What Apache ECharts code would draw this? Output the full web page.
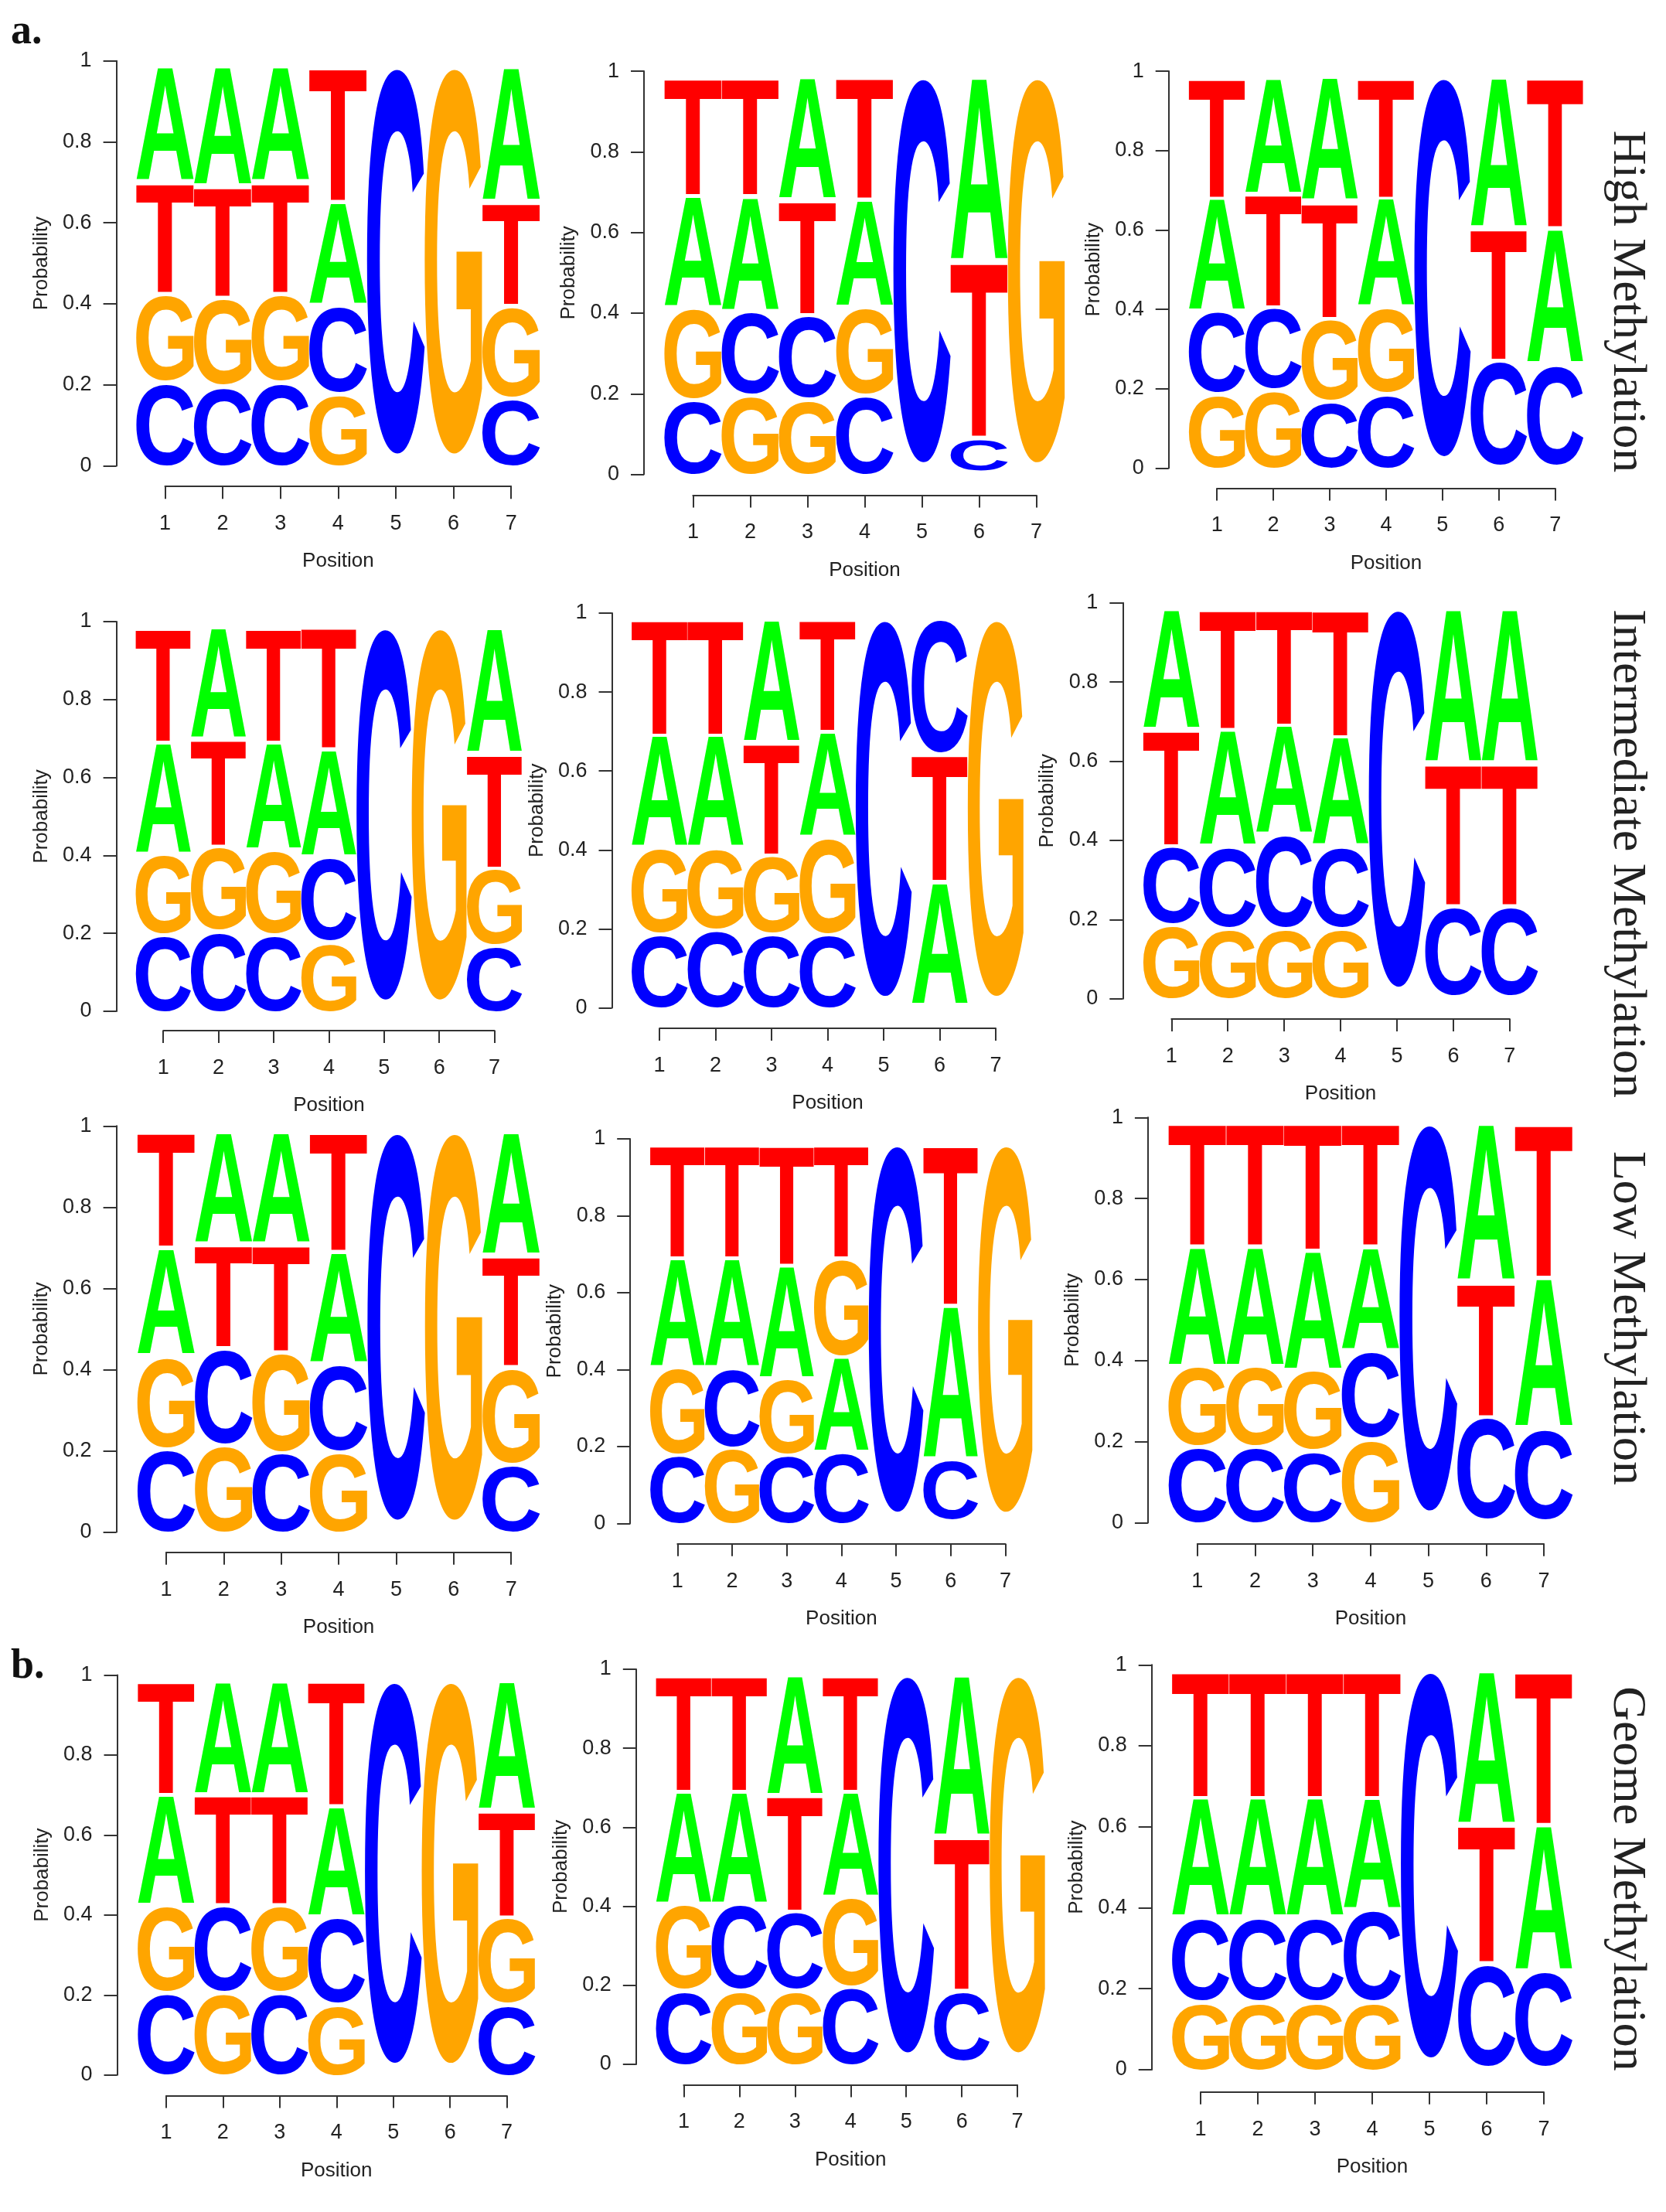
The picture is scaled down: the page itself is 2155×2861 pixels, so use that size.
<!DOCTYPE html>
<html>
<head>
<meta charset="utf-8">
<title>Sequence logos by methylation level</title>
<script src="https://cdn.jsdelivr.net/npm/echarts@6.0.0/dist/echarts.min.js"></script>
<style>
  html, body { margin: 0; padding: 0; background: #fff; }
  #main { width: 2155px; height: 2861px; }
</style>
</head>
<body>
<div id="main"></div>
<script>
  // bases in row order of every matrix below
  var BASES = ['A', 'C', 'G', 'T'];
  var BASE_COLORS = { A: '#00ff00', C: '#0000ff', G: '#ffa500', T: '#ff0000' };
  var ROW_LABELS = ['High Methylation', 'Intermediate Methylation', 'Low Methylation', 'Geome Methylation'];
  var SECTION_LABELS = ['a.', 'b.'];

  // probability per position 1..7, rows: A, C, G, T
  var high1 = [
    [0.29, 0.30, 0.29, 0.26, 0, 0, 0.34],
    [0.21, 0.20, 0.21, 0.22, 1, 0, 0.17],
    [0.22, 0.22, 0.22, 0.18, 0, 1, 0.23],
    [0.28, 0.28, 0.28, 0.34, 0, 0, 0.26]
  ];
  var high2 = [
    [0.28, 0.29, 0.31, 0.27, 0, 0.47, 0],
    [0.19, 0.21, 0.21, 0.20, 1, 0.08, 0],
    [0.23, 0.20, 0.19, 0.22, 0, 0, 1],
    [0.30, 0.30, 0.29, 0.31, 0, 0.45, 0]
  ];
  var high3 = [
    [0.29, 0.30, 0.32, 0.28, 0, 0.39, 0.35],
    [0.21, 0.21, 0.17, 0.19, 1, 0.27, 0.26],
    [0.19, 0.20, 0.21, 0.22, 0, 0, 0],
    [0.31, 0.29, 0.30, 0.31, 0, 0.34, 0.39]
  ];
  var mid1 = [
    [0.29, 0.29, 0.28, 0.28, 0, 0, 0.33],
    [0.20, 0.21, 0.20, 0.22, 1, 0, 0.17],
    [0.21, 0.22, 0.22, 0.18, 0, 1, 0.20],
    [0.30, 0.28, 0.30, 0.32, 0, 0, 0.30]
  ];
  var mid2 = [
    [0.29, 0.29, 0.32, 0.27, 0, 0.32, 0],
    [0.19, 0.20, 0.19, 0.19, 1, 0.35, 0],
    [0.22, 0.21, 0.20, 0.25, 0, 0, 1],
    [0.30, 0.30, 0.29, 0.29, 0, 0.33, 0]
  ];
  var mid3 = [
    [0.31, 0.30, 0.28, 0.28, 0, 0.40, 0.40],
    [0.20, 0.21, 0.24, 0.21, 1, 0.23, 0.23],
    [0.19, 0.18, 0.18, 0.18, 0, 0, 0],
    [0.30, 0.31, 0.30, 0.33, 0, 0.37, 0.37]
  ];
  var low1 = [
    [0.27, 0.28, 0.28, 0.28, 0, 0, 0.31],
    [0.21, 0.24, 0.20, 0.22, 1, 0, 0.17],
    [0.23, 0.22, 0.25, 0.20, 0, 1, 0.24],
    [0.29, 0.26, 0.27, 0.30, 0, 0, 0.28]
  ];
  var low2 = [
    [0.29, 0.29, 0.30, 0.25, 0, 0.41, 0],
    [0.18, 0.21, 0.18, 0.19, 1, 0.16, 0],
    [0.23, 0.20, 0.20, 0.26, 0, 0, 1],
    [0.30, 0.30, 0.32, 0.30, 0, 0.43, 0]
  ];
  var low3 = [
    [0.30, 0.30, 0.30, 0.26, 0, 0.40, 0.38],
    [0.19, 0.19, 0.18, 0.22, 1, 0.26, 0.23],
    [0.20, 0.20, 0.20, 0.21, 0, 0, 0],
    [0.31, 0.31, 0.32, 0.31, 0, 0.34, 0.39]
  ];
  var genome1 = [
    [0.28, 0.29, 0.29, 0.28, 0, 0, 0.33],
    [0.21, 0.22, 0.21, 0.22, 1, 0, 0.18],
    [0.22, 0.21, 0.22, 0.18, 0, 1, 0.22],
    [0.29, 0.28, 0.28, 0.32, 0, 0, 0.27]
  ];
  var genome2 = [
    [0.29, 0.29, 0.31, 0.27, 0, 0.42, 0],
    [0.19, 0.22, 0.20, 0.20, 1, 0.18, 0],
    [0.22, 0.19, 0.19, 0.23, 0, 0, 1],
    [0.30, 0.30, 0.30, 0.30, 0, 0.40, 0]
  ];
  var genome3 = [
    [0.30, 0.30, 0.30, 0.28, 0, 0.39, 0.37],
    [0.21, 0.21, 0.21, 0.23, 1, 0.26, 0.24],
    [0.17, 0.17, 0.17, 0.17, 0, 0, 0],
    [0.32, 0.32, 0.32, 0.32, 0, 0.35, 0.39]
  ];

  var panels = [high1, high2, high3, mid1, mid2, mid3, low1, low2, low3, genome1, genome2, genome3];

  // page layout of each panel (px): tick 1 x, tick 7 x, p=0 y, p=1 y, y-axis line x, x-axis line y
  var frames = [
    [213.5, 661.2, 602.4, 78.8, 150.6, 629.2],
    [896.4, 1340.6, 613.6, 92.1, 833.0, 640.4],
    [1574.2, 2011.7, 605.5, 92.1, 1511.7, 631.4],
    [211.2, 639.6, 1308.0, 804.0, 150.6, 1333.0],
    [853.1, 1288.0, 1303.6, 793.0, 791.5, 1330.0],
    [1515.3, 1952.8, 1291.7, 779.8, 1452.3, 1318.0],
    [214.9, 661.2, 1981.4, 1456.3, 150.6, 2007.8],
    [876.3, 1300.4, 1970.4, 1473.0, 815.2, 1996.8],
    [1548.8, 1997.0, 1969.5, 1445.3, 1484.9, 1996.8],
    [214.9, 655.6, 2683.8, 2166.4, 151.5, 2710.4],
    [884.4, 1316.1, 2669.9, 2158.9, 822.8, 2696.4],
    [1553.0, 1996.9, 2676.9, 2153.3, 1489.7, 2705.8]
  ];
  var rowLabelY = [390, 1104, 1705, 2430];

  var AXIS_FONT = '"Liberation Sans", Arial, sans-serif';
  var GLYPH_FONT = 'bold 200px "Liberation Sans", Arial, sans-serif';
  var axisLine = { show: true, lineStyle: { color: '#333', width: 2 } };

  // ink box of every glyph, measured with a middle baseline like zrender draws it
  var glyphBox = {};
  (function () {
    var ctx = document.createElement('canvas').getContext('2d');
    ctx.font = GLYPH_FONT;
    ctx.textBaseline = 'middle';
    ctx.textAlign = 'left';
    BASES.forEach(function (b) {
      var m = ctx.measureText(b);
      glyphBox[b] = {
        l: m.actualBoundingBoxLeft, r: m.actualBoundingBoxRight,
        a: m.actualBoundingBoxAscent, d: m.actualBoundingBoxDescent
      };
    });
  })();

  // seqLogo stacking: smallest at the bottom, 0.95 * p tall, 0.01 gap
  function buildStacks(pwm) {
    var out = [];
    for (var j = 0; j < 7; j++) {
      var probs = [pwm[0][j], pwm[1][j], pwm[2][j], pwm[3][j]];
      var order = [0, 1, 2, 3].sort(function (a, b) {
        return probs[a] - probs[b] || a - b;
      });
      var y = 0;
      order.forEach(function (i) {
        var h = 0.95 * probs[i];
        if (h > 0) out.push([j + 1, y, y + h, i]);
        y += h + 0.01;
      });
    }
    return out;
  }

  function renderLetter(params, api) {
    var b = BASES[api.value(3)];
    var p0 = api.coord([api.value(0) - 0.5, api.value(2)]);
    var p1 = api.coord([api.value(0) + 0.5, api.value(1)]);
    var g = glyphBox[b];
    var sx = (p1[0] - p0[0]) / (g.l + g.r);
    var sy = (p1[1] - p0[1]) / (g.a + g.d);
    return {
      type: 'text',
      x: p0[0] + g.l * sx,
      y: p0[1] + g.a * sy,
      scaleX: sx,
      scaleY: sy,
      style: {
        text: b, x: 0, y: 0, font: GLYPH_FONT,
        fill: BASE_COLORS[b], align: 'left', verticalAlign: 'middle'
      }
    };
  }

  var grids = [], xAxes = [], yAxes = [], series = [];

  panels.forEach(function (pwm, k) {
    var f = frames[k];
    var unit = (f[1] - f[0]) / 6;
    var left = f[0] - unit / 2;

    // logo area
    grids.push({ left: left, top: f[3], width: unit * 7, height: f[2] - f[3] });
    xAxes.push({ gridIndex: 2 * k, type: 'value', min: 0.5, max: 7.5, show: false });
    yAxes.push({
      gridIndex: 2 * k, type: 'value', min: 0, max: 1, interval: 0.2,
      position: 'left', offset: left - f[4],
      name: 'Probability', nameLocation: 'middle', nameGap: 84,
      nameTextStyle: { fontFamily: AXIS_FONT, fontSize: 26, color: '#222' },
      axisLine: axisLine,
      axisTick: { show: true, length: 17, lineStyle: { color: '#333', width: 2 } },
      axisLabel: { margin: 32, fontFamily: AXIS_FONT, fontSize: 27, color: '#222' },
      splitLine: { show: false }
    });

    // detached position axis, spanning ticks 1..7 only
    grids.push({ left: f[0], top: f[5] - 10, width: f[1] - f[0], height: 10 });
    xAxes.push({
      gridIndex: 2 * k + 1, type: 'value', min: 1, max: 7, interval: 1, position: 'bottom',
      name: 'Position', nameLocation: 'middle', nameGap: 84,
      nameTextStyle: { fontFamily: AXIS_FONT, fontSize: 26, color: '#222' },
      axisLine: axisLine,
      axisTick: { show: true, length: 16, lineStyle: { color: '#333', width: 2 } },
      axisLabel: { margin: 35, fontFamily: AXIS_FONT, fontSize: 27, color: '#222' },
      splitLine: { show: false }
    });
    yAxes.push({ gridIndex: 2 * k + 1, type: 'value', show: false });

    series.push({
      type: 'custom',
      xAxisIndex: 2 * k,
      yAxisIndex: 2 * k,
      renderItem: renderLetter,
      data: buildStacks(pwm),
      clip: false,
      silent: true
    });
  });

  var graphics = [];
  ROW_LABELS.forEach(function (label, i) {
    graphics.push({
      type: 'text', x: 2104, y: rowLabelY[i], rotation: -Math.PI / 2,
      style: {
        text: label, font: '62px "Liberation Serif", "Times New Roman", serif',
        fill: '#222', align: 'center', verticalAlign: 'middle'
      }
    });
  });
  graphics.push({
    type: 'text', x: 14, y: 42,
    style: { text: SECTION_LABELS[0], font: 'bold 54px "Liberation Serif", serif', fill: '#111', align: 'left', verticalAlign: 'middle' }
  });
  graphics.push({
    type: 'text', x: 14, y: 2156,
    style: { text: SECTION_LABELS[1], font: 'bold 54px "Liberation Serif", serif', fill: '#111', align: 'left', verticalAlign: 'middle' }
  });

  var chart = echarts.init(document.getElementById('main'));
  chart.setOption({
    backgroundColor: '#ffffff',
    animation: false,
    grid: grids,
    xAxis: xAxes,
    yAxis: yAxes,
    series: series,
    graphic: graphics
  });
</script>
</body>
</html>
